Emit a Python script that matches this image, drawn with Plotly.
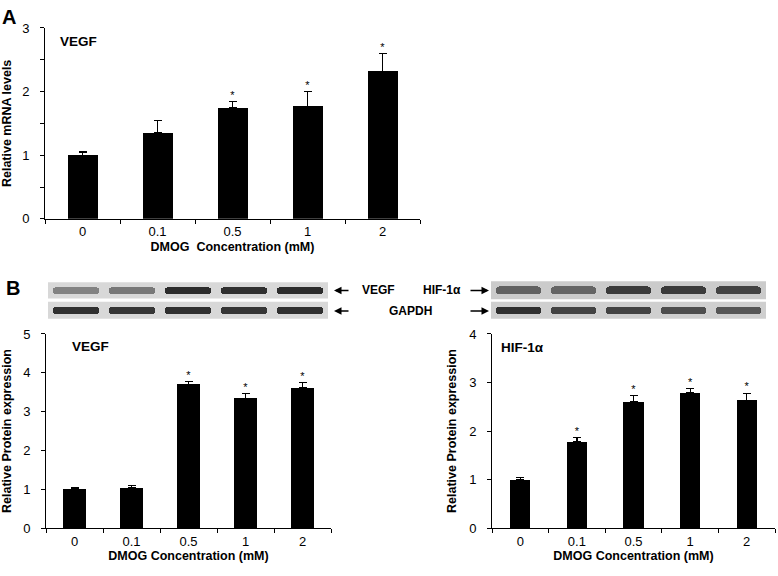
import plotly.graph_objects as go

W, H = 778, 576
FONT = "Liberation Sans"

# ---- data ----
conc = ['0', '0.1', '0.5', '1', '2']

mrna_vegf = [1.0, 1.35, 1.75, 1.77, 2.32]
mrna_vegf_err = [0.05, 0.19, 0.09, 0.23, 0.28]
mrna_vegf_sig = [False, False, True, True, True]

prot_vegf = [1.0, 1.04, 3.70, 3.34, 3.62]
prot_vegf_err = [0.03, 0.06, 0.07, 0.12, 0.12]
prot_vegf_sig = [False, False, True, True, True]

prot_hif = [1.0, 1.78, 2.60, 2.79, 2.63]
prot_hif_err = [0.05, 0.09, 0.13, 0.09, 0.15]
prot_hif_sig = [False, True, True, True, True]

# blot band intensities (0 = none, 1 = black)
blot_vegf = [0.45, 0.5, 0.9, 0.88, 0.9]
blot_gapdh_l = [0.88, 0.85, 0.88, 0.85, 0.88]
blot_hif = [0.62, 0.6, 0.82, 0.82, 0.78]
blot_gapdh_r = [0.88, 0.78, 0.78, 0.72, 0.68]


def fx(p):
    return p / W


def fy(p):
    return 1 - p / H


def px_x(a, b):
    return [fx(a), fx(b)]


def px_y(top, bottom):
    return [fy(bottom), fy(top)]


fig = go.Figure()


def bar_panel(n, vals, errs, sig, width):
    xa = 'x' if n == 1 else f'x{n}'
    ya = 'y' if n == 1 else f'y{n}'
    fig.add_trace(go.Bar(
        x=conc, y=vals, xaxis=xa, yaxis=ya, width=width,
        marker=dict(color='black', line=dict(width=0)),
        error_y=dict(type='data', array=errs, arrayminus=[0] * len(errs),
                     color='black', thickness=1.2, width=4),
        showlegend=False))
    fig.add_trace(go.Scatter(
        x=[c for c, s in zip(conc, sig) if s],
        y=[v + e for v, e, s in zip(vals, errs, sig) if s],
        mode='text', text=['*'] * sum(sig), textposition='top center',
        textfont=dict(family=FONT, size=11, color='black'),
        xaxis=xa, yaxis=ya, showlegend=False, cliponaxis=False))


def blot(n, vals, bg):
    xa, ya = f'x{n}', f'y{n}'
    levels = [round(215 - 190 * v) for v in vals]
    fig.add_trace(go.Bar(
        x=list(range(len(vals))), y=[0.44] * len(vals), base=[0.28] * len(vals),
        width=0.82, xaxis=xa, yaxis=ya, showlegend=False,
        marker=dict(color=[f'rgb({g},{g},{g})' for g in levels],
                    line=dict(width=0), cornerradius=5)))
    fig.add_shape(type='rect', xref=f'{xa} domain', yref=f'{ya} domain',
                  x0=0, x1=1, y0=0, y1=1, fillcolor=bg,
                  line=dict(width=0), layer='below')


bar_panel(1, mrna_vegf, mrna_vegf_err, mrna_vegf_sig, 0.4)
bar_panel(2, prot_vegf, prot_vegf_err, prot_vegf_sig, 0.4)
bar_panel(3, prot_hif, prot_hif_err, prot_hif_sig, 0.36)
blot(4, blot_vegf, '#d8d8d8')
blot(5, blot_gapdh_l, '#d8d8d8')
blot(6, blot_hif, '#cbcbcb')
blot(7, blot_gapdh_r, '#cfcfcf')

tickf = dict(family=FONT, size=13, color='black')
titlef = dict(family=FONT, size=12.5, color='black', weight='bold')


def xcat(dom, title, anchor):
    return dict(domain=dom, anchor=anchor, type='category', showline=True,
                linecolor='black', linewidth=1, ticks='outside', ticklen=4,
                tickson='boundaries', tickcolor='black', tickfont=tickf,
                ticklabelstandoff=1, showgrid=False, zeroline=False,
                title=dict(text=title, font=titlef, standoff=3))


def yval(dom, rng, title, anchor, minor=False):
    d = dict(domain=dom, anchor=anchor, range=rng, showline=True,
             linecolor='black', linewidth=1, ticks='outside', ticklen=4,
             tickcolor='black', dtick=1, tickfont=tickf, ticklabelstandoff=8,
             showgrid=False, zeroline=False,
             title=dict(text=title, font=titlef, standoff=9))
    if minor:
        d['minor'] = dict(dtick=0.5, ticks='outside', ticklen=4, tickcolor='black')
    return d


def hidden(dom, anchor, rng):
    return dict(domain=dom, anchor=anchor, range=rng, visible=False,
                showgrid=False, zeroline=False, fixedrange=True)


fig.update_layout(
    width=W, height=H, margin=dict(l=0, r=0, t=0, b=0),
    paper_bgcolor='white', plot_bgcolor='rgba(0,0,0,0)', bargap=0,
    font=dict(family=FONT, color='black'),
    xaxis=xcat(px_x(45, 420), 'DMOG  Concentration (mM)', 'y'),
    yaxis=yval(px_y(21.5, 217.5), [0, 3], 'Relative mRNA levels', 'x', minor=True),
    xaxis2=xcat(px_x(46, 331), 'DMOG Concentration (mM)', 'y2'),
    yaxis2=yval(px_y(335.7, 535), [0, 5], 'Relative Protein expression', 'x2'),
    xaxis3=xcat(px_x(492, 775), 'DMOG Concentration (mM)', 'y3'),
    yaxis3=yval(px_y(335.7, 535), [0, 4], 'Relative Protein expression', 'x3'),
    xaxis4=hidden(px_x(48, 328), 'y4', [-0.5, 4.5]),
    yaxis4=hidden(px_y(282.7, 299.3), 'x4', [0, 1]),
    xaxis5=hidden(px_x(48, 328), 'y5', [-0.5, 4.5]),
    yaxis5=hidden(px_y(302.7, 320), 'x5', [0, 1]),
    xaxis6=hidden(px_x(491, 766), 'y6', [-0.5, 4.5]),
    yaxis6=hidden(px_y(281.7, 300), 'x6', [0, 1]),
    xaxis7=hidden(px_x(491, 766), 'y7', [-0.5, 4.5]),
    yaxis7=hidden(px_y(302.7, 320), 'x7', [0, 1]),
)

ann = [
    dict(text='A', x=9, y=10, size=20),
    dict(text='B', x=13, y=288, size=20),
    dict(text='VEGF', x=78, y=35, size=13.5),
    dict(text='VEGF', x=90, y=349, size=13.5),
    dict(text='HIF-1α', x=522, y=350, size=13.5),
]
for a in ann:
    fig.add_annotation(text=a['text'], x=fx(a['x']), y=fy(a['y']), xref='paper',
                       yref='paper', xanchor='center', yanchor='middle',
                       showarrow=False,
                       font=dict(family=FONT, size=a['size'], color='black', weight='bold'))

blot_labels = [
    dict(text='VEGF', x=378, y=291, xanchor='center'),
    dict(text='GAPDH', x=411, y=312, xanchor='center'),
    dict(text='HIF-1α', x=463, y=291, xanchor='right'),
]
for a in blot_labels:
    fig.add_annotation(text=a['text'], x=fx(a['x']), y=fy(a['y']), xref='paper',
                       yref='paper', xanchor=a['xanchor'], yanchor='middle',
                       showarrow=False,
                       font=dict(family=FONT, size=12, color='black', weight='bold'))

# arrows pointing at the blots
for hx, yy, off in [(334, 291, 16), (334, 312, 16), (489, 291, -20), (489, 312, -20)]:
    fig.add_annotation(x=fx(hx), y=fy(yy), xref='paper', yref='paper',
                       ax=off, ay=0, axref='pixel', ayref='pixel', text='',
                       showarrow=True, arrowhead=2, arrowsize=1, arrowwidth=1.5,
                       arrowcolor='black')

# drop the default 8px page margin so the figure sits at the window corner
fig.write_html("out.html", config={'displayModeBar': False},
               post_script="document.body.style.margin='0';")
